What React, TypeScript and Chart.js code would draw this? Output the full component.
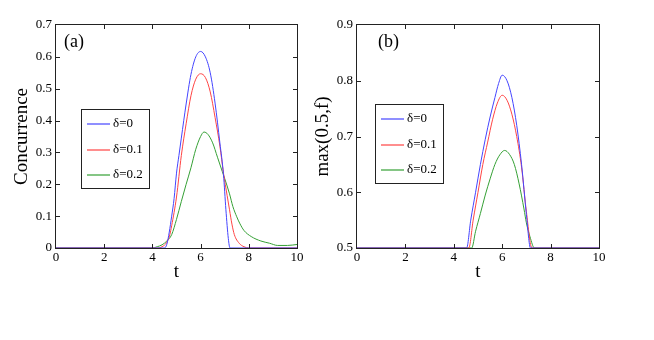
import React, { useEffect, useRef } from "react";
import { Chart, registerables } from "chart.js";

Chart.register(...registerables);

const FONT = "'Liberation Serif', 'Times New Roman', serif";

// ---- shared labels / ticks ----
const SERIES_LABELS = ["δ=0", "δ=0.1", "δ=0.2"];
const SERIES_COLORS = ["#4444ff", "#ff4444", "#35a035"];
const X_TICKS = [0, 2, 4, 6, 8, 10];
const CONC_TICKS = [0, 0.1, 0.2, 0.3, 0.4, 0.5, 0.6, 0.7];
const FID_TICKS = [0.5, 0.6, 0.7, 0.8, 0.9];

// ---- panel (a): Concurrence ----
const tConcD0 = [0, 4.5, 4.6, 4.7, 4.8, 4.9, 5.0, 5.1, 5.2, 5.4, 5.6, 5.8, 6.0, 6.2, 6.4, 6.6, 6.8, 6.95, 7.05, 7.15, 7.22, 10];
const concD0 = [0, 0, 0.012, 0.05, 0.1, 0.155, 0.235, 0.29, 0.345, 0.452, 0.545, 0.6, 0.617, 0.6, 0.55, 0.455, 0.33, 0.23, 0.12, 0.03, 0, 0];

const tConcD1 = [0, 4.2, 4.4, 4.6, 4.72, 4.8, 5.0, 5.2, 5.4, 5.6, 5.8, 6.0, 6.2, 6.4, 6.6, 6.8, 6.95, 7.1, 7.2, 7.3, 7.4, 7.6, 7.8, 8.0, 10];
const concD1 = [0, 0, 0.004, 0.018, 0.041, 0.07, 0.16, 0.29, 0.39, 0.478, 0.53, 0.547, 0.535, 0.49, 0.41, 0.32, 0.235, 0.165, 0.12, 0.075, 0.042, 0.015, 0.004, 0, 0];

const tConcD2 = [0, 4.0, 4.2, 4.4, 4.6, 4.8, 5.0, 5.2, 5.4, 5.6, 5.8, 6.0, 6.14, 6.3, 6.5, 6.7, 6.9, 7.0, 7.2, 7.34, 7.5, 7.62, 7.8, 8.1, 8.5, 8.86, 9.2, 9.6, 10];
const concD2 = [0, 0, 0.004, 0.01, 0.022, 0.042, 0.09, 0.146, 0.2, 0.252, 0.31, 0.35, 0.364, 0.357, 0.33, 0.285, 0.24, 0.218, 0.17, 0.13, 0.098, 0.078, 0.055, 0.036, 0.022, 0.015, 0.008, 0.008, 0.011];

// ---- panel (b): max(0.5, f) ----
const tFidD0 = [0, 4.53, 4.7, 4.9, 5.1, 5.3, 5.5, 5.7, 5.85, 6.0, 6.2, 6.4, 6.6, 6.8, 7.0, 7.17, 10];
const fidD0 = [0.5, 0.5, 0.55, 0.6, 0.65, 0.695, 0.735, 0.77, 0.795, 0.81, 0.8, 0.77, 0.72, 0.65, 0.56, 0.5, 0.5];

const tFidD1 = [0, 4.62, 4.8, 5.0, 5.2, 5.4, 5.6, 5.8, 6.0, 6.2, 6.4, 6.6, 6.8, 7.0, 7.23, 10];
const fidD1 = [0.5, 0.5, 0.55, 0.6, 0.65, 0.69, 0.73, 0.76, 0.774, 0.765, 0.74, 0.7, 0.645, 0.565, 0.5, 0.5];

const tFidD2 = [0, 4.74, 4.9, 5.1, 5.3, 5.5, 5.7, 5.9, 6.1, 6.3, 6.5, 6.7, 6.9, 7.0, 7.15, 7.33, 10];
const fidD2 = [0.5, 0.5, 0.53, 0.562, 0.595, 0.624, 0.65, 0.667, 0.675, 0.668, 0.65, 0.615, 0.57, 0.545, 0.52, 0.5, 0.5];

type PanelCfg = {
  tag: string;
  yTitle: string;
  yMin: number;
  yMax: number;
  yTicks: number[];
  series: { t: number[]; v: number[] }[];
  canvasLeft: number;
  canvasWidth: number;
  padRight: number;
  yAxisWidth: number;
  yTitlePad: number;
  legendDx: number;
  legendDy: number;
  tagDx: number;
};

const PANELS: PanelCfg[] = [
  {
    tag: "(a)",
    yTitle: "Concurrence",
    yMin: 0,
    yMax: 0.7,
    yTicks: CONC_TICKS,
    series: [
      { t: tConcD0, v: concD0 },
      { t: tConcD1, v: concD1 },
      { t: tConcD2, v: concD2 },
    ],
    canvasLeft: 0,
    canvasWidth: 310,
    padRight: 13,
    yAxisWidth: 56,
    yTitlePad: 10.6,
    legendDx: 25,
    legendDy: 84,
    tagDx: 8,
  },
  {
    tag: "(b)",
    yTitle: "max(0.5,f)",
    yMin: 0.5,
    yMax: 0.9,
    yTicks: FID_TICKS,
    series: [
      { t: tFidD0, v: fidD0 },
      { t: tFidD1, v: fidD1 },
      { t: tFidD2, v: fidD2 },
    ],
    canvasLeft: 310,
    canvasWidth: 344,
    padRight: 55,
    yAxisWidth: 47,
    yTitlePad: 2.1,
    legendDx: 18,
    legendDy: 79,
    tagDx: 21,
  },
];

const H = 340;

function makeFramePlugin(cfg: PanelCfg) {
  return {
    id: "frame" + cfg.tag.replace(/[()]/g, ""),
    afterDraw(chart: any) {
      const { ctx, chartArea } = chart;
      const { left, right, top, bottom } = chartArea;
      const xs = chart.scales.x;
      const ys = chart.scales.y;
      ctx.save();
      ctx.setLineDash([]);
      ctx.strokeStyle = "#222";
      ctx.lineWidth = 1;
      ctx.strokeRect(left - 0.5, top - 0.5, right - left + 1, bottom - top + 1);
      const TL = 4;
      ctx.beginPath();
      for (const v of X_TICKS) {
        const px = Math.round(xs.getPixelForValue(v)) + 0.5;
        if (px <= left + 1 || px >= right - 1) continue;
        ctx.moveTo(px, bottom);
        ctx.lineTo(px, bottom - TL);
        ctx.moveTo(px, top);
        ctx.lineTo(px, top + TL);
      }
      for (const v of cfg.yTicks) {
        const py = Math.round(ys.getPixelForValue(v)) + 0.5;
        if (py <= top + 1 || py >= bottom - 1) continue;
        ctx.moveTo(left, py);
        ctx.lineTo(left + TL, py);
        ctx.moveTo(right, py);
        ctx.lineTo(right - TL, py);
      }
      ctx.stroke();

      // panel tag
      ctx.fillStyle = "#000";
      ctx.font = `18px ${FONT}`;
      ctx.textBaseline = "middle";
      ctx.textAlign = "left";
      ctx.fillText(cfg.tag, left + cfg.tagDx, top + 17.5);

      // legend box
      const bx = Math.round(left + cfg.legendDx);
      const by = Math.round(top + cfg.legendDy);
      const bw = 68;
      const bh = 79;
      ctx.fillStyle = "#fff";
      ctx.fillRect(bx, by, bw, bh);
      ctx.strokeStyle = "#222";
      ctx.lineWidth = 1;
      ctx.strokeRect(bx + 0.5, by + 0.5, bw, bh);
      ctx.font = `13px ${FONT}`;
      const rows = [15, 41, 66];
      for (let i = 0; i < SERIES_LABELS.length; i++) {
        const ry = by + rows[i];
        ctx.strokeStyle = SERIES_COLORS[i];
        ctx.lineWidth = 1.2;
        ctx.beginPath();
        ctx.moveTo(bx + 6, ry);
        ctx.lineTo(bx + 29, ry);
        ctx.stroke();
        ctx.fillStyle = "#000";
        ctx.fillText(SERIES_LABELS[i], bx + 32, ry);
      }
      ctx.restore();
    },
  };
}

function Panel({ cfg }: { cfg: PanelCfg }) {
  const ref = useRef<HTMLCanvasElement>(null);
  useEffect(() => {
    const canvas = ref.current;
    if (!canvas) return;
    const chart = new Chart(canvas, {
      type: "line",
      data: {
        datasets: cfg.series.map((s, i) => ({
          label: SERIES_LABELS[i],
          data: s.t.map((t, j) => ({ x: t, y: s.v[j] })),
          borderColor: SERIES_COLORS[i],
          backgroundColor: SERIES_COLORS[i],
          borderWidth: 1,
          pointRadius: 0,
          fill: false,
          cubicInterpolationMode: "monotone" as const,
        })),
      },
      options: {
        responsive: false,
        maintainAspectRatio: false,
        animation: false,
        devicePixelRatio: 1,
        layout: { padding: { left: 0, top: 25, right: cfg.padRight, bottom: 0 } },
        plugins: {
          legend: { display: false },
          tooltip: { enabled: false },
        },
        scales: {
          x: {
            type: "linear",
            min: 0,
            max: 10,
            afterBuildTicks: (s: any) => {
              s.ticks = X_TICKS.map((v) => ({ value: v }));
            },
            afterFit: (s: any) => {
              s.height = 92;
            },
            grid: { display: false, drawTicks: false, tickLength: 0 },
            border: { display: false },
            ticks: {
              font: { family: FONT, size: 13 },
              color: "#000",
              padding: 2,
              maxRotation: 0,
              autoSkip: false,
            },
            title: {
              display: true,
              text: "t",
              color: "#000",
              font: { family: FONT, size: 19 },
              padding: { top: 0, bottom: 57 },
            },
          },
          y: {
            type: "linear",
            min: cfg.yMin,
            max: cfg.yMax,
            afterBuildTicks: (s: any) => {
              s.ticks = cfg.yTicks.map((v) => ({ value: v }));
            },
            afterFit: (s: any) => {
              s.width = cfg.yAxisWidth;
            },
            grid: { display: false, drawTicks: false, tickLength: 0 },
            border: { display: false },
            ticks: {
              font: { family: FONT, size: 13 },
              color: "#000",
              padding: 4,
              autoSkip: false,
            },
            title: {
              display: true,
              text: cfg.yTitle,
              color: "#000",
              font: { family: FONT, size: 19 },
              padding: { top: cfg.yTitlePad, bottom: 0 },
            },
          },
        },
      },
      plugins: [makeFramePlugin(cfg)],
    } as any);
    return () => chart.destroy();
  }, [cfg]);
  return (
    <canvas
      ref={ref}
      width={cfg.canvasWidth}
      height={H}
      style={{
        position: "absolute",
        left: cfg.canvasLeft,
        top: 0,
        width: cfg.canvasWidth,
        height: H,
      }}
    />
  );
}

export default function App() {
  return (
    <div
      style={{
        position: "fixed",
        left: 0,
        top: 0,
        width: 654,
        height: H,
        background: "#fff",
        overflow: "hidden",
      }}
    >
      {PANELS.map((p) => (
        <Panel key={p.tag} cfg={p} />
      ))}
    </div>
  );
}
